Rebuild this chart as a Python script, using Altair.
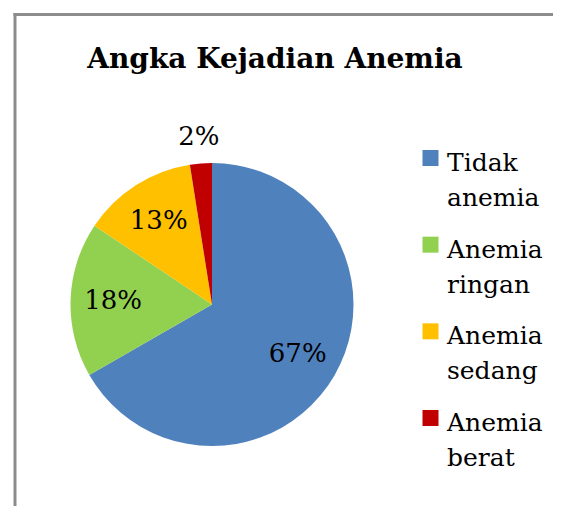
import altair as alt
import pandas as pd

# ---- data ----
categories = ["Tidak anemia", "Anemia ringan", "Anemia sedang", "Anemia berat"]
values = [66.7, 17.7, 13.1, 2.5]
pct_labels = ["67%", "18%", "13%", "2%"]
colors = ["#4F81BD", "#92D050", "#FFC000", "#C00000"]
title_text = "Angka Kejadian Anemia"

df = pd.DataFrame({
    "kategori": categories,
    "nilai": values,
    "label": pct_labels,
    "urut": list(range(len(categories))),
})

# ---- layout ----
W, H = 545, 498
CX, CY, R = 204, 296.5, 141.5
FONT = "DejaVu Serif"
BORDER = "#8c8c8c"

color_scale = alt.Scale(domain=categories, range=colors)

frame_df = pd.DataFrame({"k": [0]})
left_border = alt.Chart(frame_df).mark_rule(color=BORDER, strokeWidth=3).encode(
    x=alt.value(7), y=alt.value(5), y2=alt.value(H + 10)
)
top_border = alt.Chart(frame_df).mark_rule(color=BORDER, strokeWidth=3).encode(
    y=alt.value(6.5), x=alt.value(5.5), x2=alt.value(W + 10)
)

title = alt.Chart(pd.DataFrame({"t": [title_text]})).mark_text(
    font=FONT, fontSize=28, fontWeight="bold", align="center",
    baseline="alphabetic", color="black"
).encode(x=alt.value(267), y=alt.value(60), text="t:N")

pie = alt.Chart(df).mark_arc(x=CX, y=CY, outerRadius=R).encode(
    theta=alt.Theta("nilai:Q", stack=True),
    color=alt.Color("kategori:N", scale=color_scale, legend=None),
    order=alt.Order("urut:Q"),
)

labels = alt.Chart(df).mark_text(
    x=CX, y=CY, radius=alt.expr("datum.nilai < 5 ? 168 : 99"),
    font=FONT, fontSize=26, color="black", align="center", baseline="middle"
).encode(
    theta=alt.Theta("nilai:Q", stack=True),
    detail="kategori:N",
    order=alt.Order("urut:Q"),
    text="label:N",
)

y_leg = alt.Y(
    "kategori:N",
    scale=alt.Scale(domain=categories, range=[150, 410], padding=0),
    axis=None,
)

leg_sq = alt.Chart(df).mark_square(size=256, opacity=1).encode(
    x=alt.value(422.5),
    y=y_leg,
    color=alt.Color("kategori:N", scale=color_scale, legend=None),
)

leg_tx = alt.Chart(df).mark_text(
    align="left", baseline="alphabetic", dy=13, lineBreak=" ", lineHeight=35,
    font=FONT, fontSize=25, color="black"
).encode(
    x=alt.value(439),
    y=y_leg,
    text="kategori:N",
)

chart = alt.layer(
    left_border, top_border, title, pie, labels, leg_sq, leg_tx
).properties(
    width=W, height=H,
    autosize=alt.AutoSizeParams(type="none"),
    padding=0,
).configure_view(stroke=None)

chart.save("out.html", embed_options={"renderer": "svg", "actions": False})
